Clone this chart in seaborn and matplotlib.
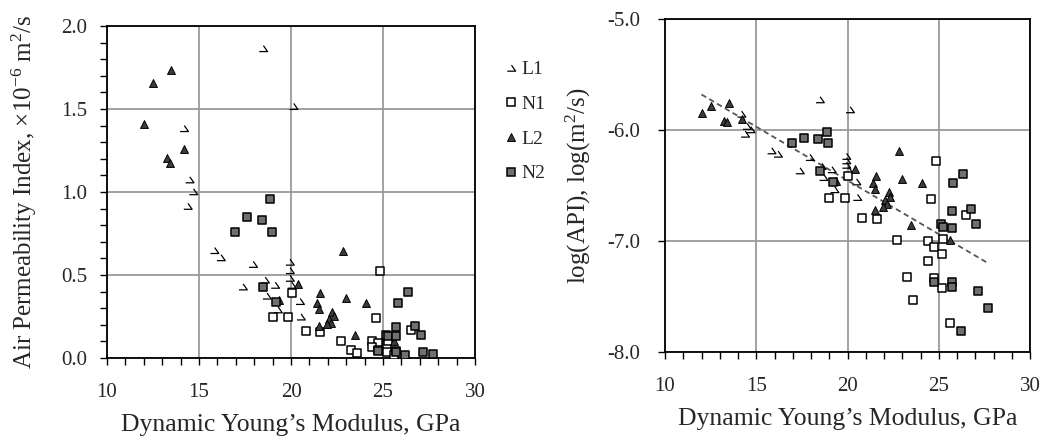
import numpy as np
import pandas as pd
import matplotlib
matplotlib.use("Agg")
import matplotlib.pyplot as plt
from matplotlib.path import Path
from matplotlib.lines import Line2D
from matplotlib.ticker import MultipleLocator, FormatStrFormatter
import seaborn as sns

# ---------------- data ----------------
# Dynamic Young's modulus (GPa) and log10(API) (log m^2/s)
l1_E = [14.2, 14.5, 14.7, 14.4, 18.5, 20.15, 15.85, 16.2, 17.95, 17.4,
        19.95, 19.95, 19.95, 18.6, 19.15, 18.7, 19.3, 20.5, 20.55, 20.05]
l1_log = [-5.86, -5.97, -6.00, -6.04, -5.73, -5.82, -6.19, -6.22, -6.25, -6.37,
          -6.24, -6.28, -6.32, -6.33, -6.36, -6.43, -6.54, -6.47, -6.61, -6.36]

n1_E = [19.0, 19.85, 20.05, 20.8, 21.6, 24.85, 24.6, 22.7, 24.4, 24.75,
        25.2, 24.4, 23.25, 24.75, 25.2, 23.6, 25.6, 26.5, 25.25]
n1_log = [-6.61, -6.61, -6.41, -6.79, -6.80, -6.28, -6.62, -6.99, -7.00, -7.05,
          -7.12, -7.18, -7.32, -7.33, -7.42, -7.53, -7.74, -6.77, -6.98]

l2_E = [12.0, 12.5, 13.5, 13.25, 13.4, 14.2, 19.35, 20.4, 21.55, 21.4,
        21.5, 22.25, 22.35, 22.05, 22.15, 21.95, 21.5, 22.8, 23.0, 24.1,
        23.5, 25.6]
l2_log = [-5.85, -5.78, -5.76, -5.92, -5.93, -5.90, -6.46, -6.35, -6.41, -6.48,
          -6.53, -6.56, -6.60, -6.63, -6.67, -6.69, -6.72, -6.19, -6.44, -6.48,
          -6.86, -6.99]

n2_E = [16.95, 17.6, 18.4, 18.85, 18.95, 18.5, 19.2, 26.35, 25.8, 25.7,
        26.75, 27.05, 25.15, 25.25, 25.7, 24.75, 25.7, 25.7, 27.15, 27.7, 26.2]
n2_log = [-6.12, -6.07, -6.08, -6.02, -6.12, -6.37, -6.47, -6.40, -6.48, -6.73,
          -6.71, -6.85, -6.85, -6.87, -6.88, -7.37, -7.37, -7.41, -7.45, -7.60, -7.81]

# trend line (log panel)
fit_E = [12.0, 27.6]
fit_log = [-5.68, -7.19]

series_labels = ["L1", "N1", "L2", "N2"]

# ---------------- build table ----------------
frames = []
for lab, E, lg in zip(series_labels, [l1_E, n1_E, l2_E, n2_E],
                      [l1_log, n1_log, l2_log, n2_log]):
    d = pd.DataFrame({"E": E, "logAPI": lg})
    d["API"] = 10 ** (d["logAPI"] + 6)   # in 1e-6 m^2/s
    d["series"] = lab
    frames.append(d)
df = pd.concat(frames, ignore_index=True)

# ---------------- style ----------------
sns.set_theme(style="ticks")
plt.rcParams["font.family"] = ["Liberation Serif", "DejaVu Serif"]
plt.rcParams["mathtext.fontset"] = "custom"
plt.rcParams["mathtext.rm"] = "Liberation Serif"
plt.rcParams["mathtext.it"] = "Liberation Serif:italic"
plt.rcParams["mathtext.bf"] = "Liberation Serif:bold"
plt.rcParams["axes.unicode_minus"] = False

l1_marker = Path([(-0.7, -0.45), (0.7, -0.45), (0.0, 0.55)],
                 [Path.MOVETO, Path.LINETO, Path.LINETO])

styles = {
    "L1": dict(marker=l1_marker, facecolor="none", edgecolor="black", s=36, linewidth=0.9),
    "N1": dict(marker="s", facecolor="white", edgecolor="black", s=30, linewidth=1.1),
    "L2": dict(marker="^", facecolor="#3c3c3c", edgecolor="black", s=32, linewidth=0.7),
    "N2": dict(marker="s", facecolor="#707070", edgecolor="black", s=30, linewidth=1.1),
}

fig = plt.figure(figsize=(10.44, 4.41), dpi=100)
axL = fig.add_axes([107 / 1044, 1 - 358 / 441, 368 / 1044, 332 / 441])
axR = fig.add_axes([665 / 1044, 1 - 352 / 441, 365 / 1044, 333 / 441])

for ax, ycol in [(axL, "API"), (axR, "logAPI")]:
    for lab in series_labels:
        sub = df[df["series"] == lab]
        sns.scatterplot(data=sub, x="E", y=ycol, ax=ax, zorder=3, legend=False,
                        **styles[lab])

sns.lineplot(x=fit_E, y=fit_log, ax=axR, color="#555555", linewidth=1.3,
             linestyle=(0, (3, 2)), zorder=2)

for ax in (axL, axR):
    ax.set_xlim(10, 30)
    ax.xaxis.set_major_locator(MultipleLocator(5))
    ax.xaxis.set_minor_locator(MultipleLocator(1))
    ax.grid(True, which="major", color="#9a9a9a", linewidth=1.3)
    ax.set_axisbelow(True)
    for sp in ax.spines.values():
        sp.set_visible(True)
        sp.set_color("black")
        sp.set_linewidth(1.3)
    ax.tick_params(which="both", direction="out", length=5, width=1.0,
                   color="black", labelsize=15, pad=9)
    ax.tick_params(axis="x", pad=13)
    ax.set_xlabel("Dynamic Young\u2019s Modulus, GPa", fontsize=18.5, labelpad=9)

axL.set_ylim(0, 2.0)
axL.yaxis.set_major_locator(MultipleLocator(0.5))
axL.yaxis.set_minor_locator(MultipleLocator(0.1))
axL.yaxis.set_major_formatter(FormatStrFormatter("%.1f"))
axL.set_ylabel("Air Permeability Index, \u00d710$^{-6}$ m$^2$/s", fontsize=18, labelpad=16)

axR.set_ylim(-8.0, -5.0)
axR.yaxis.set_major_locator(MultipleLocator(1.0))
axR.yaxis.set_major_formatter(FormatStrFormatter("%.1f"))
axR.tick_params(axis="y", pad=13)
axR.set_ylabel("log(API), log(m$^2$/s)", fontsize=18, labelpad=10)

handles = []
for lab in series_labels:
    st = styles[lab]
    handles.append(Line2D([], [], linestyle="none", marker=st["marker"],
                          markerfacecolor=st["facecolor"], markeredgecolor=st["edgecolor"],
                          markeredgewidth=st["linewidth"], markersize=np.sqrt(st["s"])))
fig.legend(handles, series_labels, loc="upper left",
           bbox_to_anchor=(493 / 1044, 1 - 51 / 441), frameon=False, fontsize=14,
           handletextpad=0.15, labelspacing=0.88, handlelength=0.8, borderpad=0)

fig.savefig("out.png", dpi=100)
